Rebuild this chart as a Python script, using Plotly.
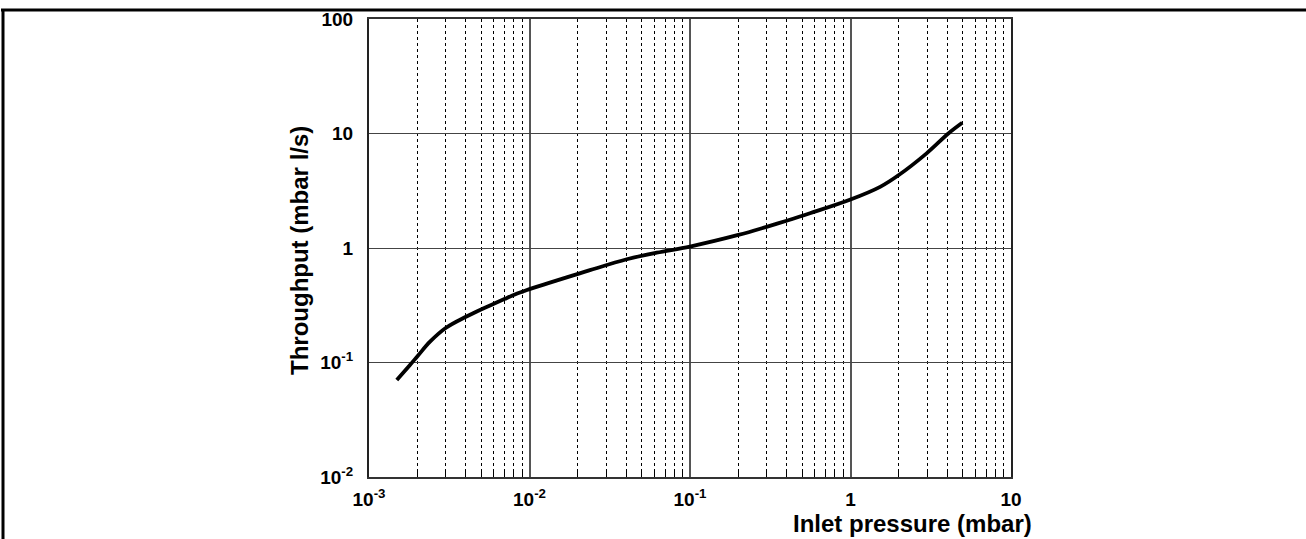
import plotly.graph_objects as go

# inlet pressure (mbar) and throughput (mbar l/s)
pressure = [1.49e-3, 1.80e-3, 2.01e-3, 2.40e-3, 3.02e-3, 4.02e-3, 5.03e-3, 6.04e-3,
            7.03e-3, 8.03e-3, 9.07e-3, 1.0e-2, 2.01e-2, 2.38e-2, 4.04e-2, 6.2e-2,
            0.1, 0.2, 0.3, 0.4, 0.559, 1.0, 1.53, 2.0, 2.98, 4.07, 4.97]
throughput = [0.0703, 0.0951, 0.114, 0.152, 0.201, 0.251, 0.292, 0.327,
              0.360, 0.390, 0.416, 0.437, 0.595, 0.640, 0.797, 0.910,
              1.03, 1.30, 1.53, 1.73, 2.01, 2.65, 3.42, 4.34, 6.71, 10.0, 12.4]

x_ticks = [1e-3, 1e-2, 1e-1, 1, 10]
x_labels = ["10<sup>-3</sup>", "10<sup>-2</sup>", "10<sup>-1</sup>", "1", "10"]
y_ticks = [1e-2, 1e-1, 1, 10, 100]
y_labels = ["10<sup>-2</sup>", "10<sup>-1</sup>", "1", "10", "100"]
x_minor = [k * 10.0 ** e for e in range(-3, 1) for k in range(2, 10)]

W, H = 1306, 539
L, R, T, B = 369, 1011, 19, 477


def px_x(p):
    return (p - L) / (R - L)


def px_y(p):
    return (B - p) / (B - T)


FAMILY = "Liberation Sans, Arial, sans-serif"
tick_font = dict(family=FAMILY, color="black", size=19, weight="bold")
title_font = dict(family=FAMILY, color="black", size=24, weight="bold")

fig = go.Figure()
fig.add_trace(go.Scatter(
    x=pressure, y=throughput, mode="lines",
    line=dict(color="black", width=3.8, shape="spline", smoothing=1.0),
    showlegend=False, hoverinfo="skip",
))

fig.update_xaxes(
    type="log", range=[-3, 1],
    tickmode="array", tickvals=x_ticks, ticktext=x_labels,
    showgrid=True, gridcolor="#555555", gridwidth=1.5,
    showline=True, linecolor="#333333", linewidth=2, mirror=True,
    ticks="", ticklabelstandoff=4,
    minor=dict(tickmode="array", tickvals=x_minor, showgrid=True,
               gridcolor="black", gridwidth=1, griddash="dot",
               ticks="inside", ticklen=5, tickcolor="black"),
    tickfont=tick_font, zeroline=False,
)
fig.update_yaxes(
    type="log", range=[-2, 2],
    tickmode="array", tickvals=y_ticks, ticktext=y_labels,
    showgrid=True, gridcolor="#444444", gridwidth=1,
    showline=True, linecolor="#222222", linewidth=2, mirror=True,
    ticks="", ticklabelstandoff=10,
    tickfont=tick_font, zeroline=False,
)

fig.add_annotation(
    text="Throughput (mbar l/s)", xref="paper", yref="paper",
    x=px_x(299), y=px_y(251), textangle=-90, showarrow=False,
    xanchor="center", yanchor="middle", font=title_font,
)
fig.add_annotation(
    text="Inlet pressure (mbar)", xref="paper", yref="paper",
    x=px_x(1034), y=px_y(523), showarrow=False,
    xanchor="right", yanchor="middle", font=title_font,
)

# page frame (top and left edges)
fig.add_shape(type="line", xref="paper", yref="paper",
              x0=px_x(1), x1=px_x(1310), y0=px_y(10), y1=px_y(10),
              line=dict(color="black", width=3))
fig.add_shape(type="line", xref="paper", yref="paper",
              x0=px_x(3), x1=px_x(3), y0=px_y(9), y1=px_y(545),
              line=dict(color="black", width=3))

fig.update_layout(
    width=W, height=H,
    margin=dict(l=L, r=W - R, t=T, b=H - B, autoexpand=False),
    paper_bgcolor="white", plot_bgcolor="white",
    font=tick_font,
)

fig.write_html("out.html", config={"displayModeBar": False},
               post_script="document.body.style.margin = '0';")
